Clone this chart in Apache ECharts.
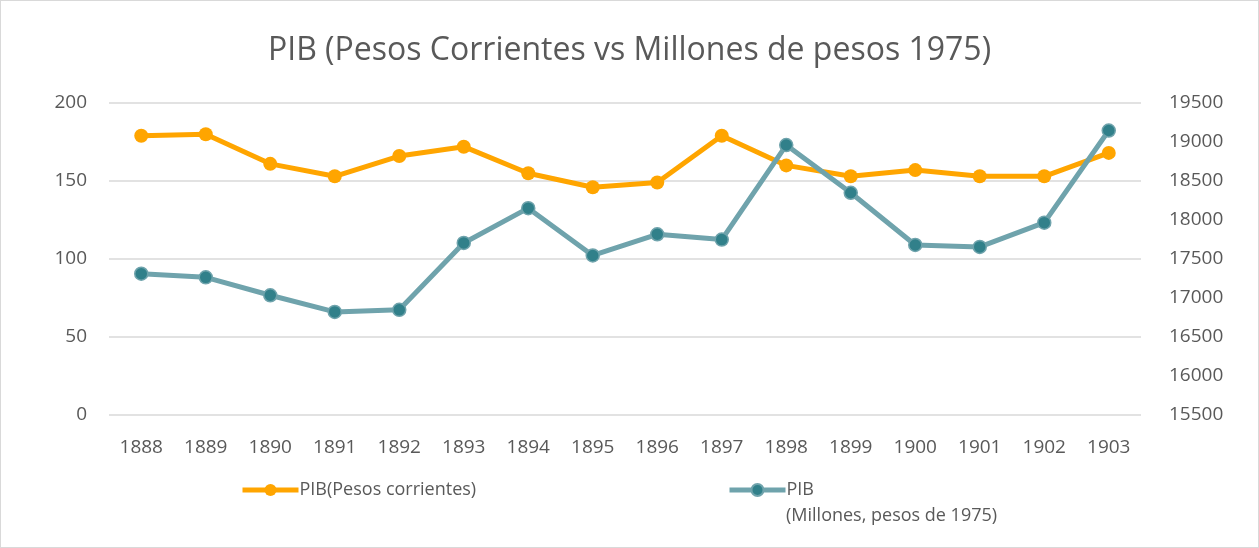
<!DOCTYPE html>
<html>
<head>
<meta charset="utf-8">
<script src="https://cdn.jsdelivr.net/npm/echarts@6/dist/echarts.min.js"></script>
<style>
  html, body { margin: 0; padding: 0; background: #fff; }
  #chart { width: 1259px; height: 548px; box-sizing: border-box; border: 1px solid #d9d9d9; }
</style>
</head>
<body>
<div id="chart"></div>
<script>
const years = ['1888', '1889', '1890', '1891', '1892', '1893', '1894', '1895', '1896', '1897', '1898', '1899', '1900', '1901', '1902', '1903']
const pibCorrientes = [179, 180, 161, 153, 166, 172, 155, 146, 149, 179, 160, 153, 157, 153, 153, 168]
const pib1975 = [17311, 17265, 17035, 16822, 16848, 17706, 18152, 17545, 17817, 17749, 18961, 18349, 17680, 17655, 17966, 19147]

const nameA = 'PIB(Pesos corrientes)'
const nameB = 'PIB\n(Millones, pesos de 1975)'
const txt = '#595959'
const font = 'Open Sans'

const chart = echarts.init(document.getElementById('chart'))
chart.setOption({
  animation: false,
  textStyle: { fontFamily: font },
  title: {
    text: 'PIB (Pesos Corrientes vs Millones de pesos 1975)',
    left: 'center',
    top: 29,
    textStyle: { color: txt, fontSize: 32, fontWeight: 'normal', fontFamily: font }
  },
  legend: [
    {
      data: [nameA],
      left: 234,
      top: 475,
      itemWidth: 56,
      itemHeight: 15,
      itemGap: 4,
      lineStyle: { width: 5 },
      textStyle: { color: txt, fontSize: 18, fontFamily: font, padding: [0, 0, 0, -4] }
    },
    {
      data: [nameB],
      left: 721,
      top: 475,
      itemWidth: 56,
      itemHeight: 15,
      lineStyle: { width: 5 },
      formatter: (n) => n.split('\n')[0],
      textStyle: { color: txt, fontSize: 18, fontFamily: font, padding: [0, 0, 0, -4] }
    }
  ],
  graphic: [
    {
      type: 'text',
      left: 785,
      top: 506,
      style: { text: nameB.split('\n')[1], fill: txt, fontSize: 18, fontFamily: font }
    }
  ],
  grid: { left: 108, right: 117, top: 102, bottom: 132 },
  xAxis: {
    type: 'category',
    data: years,
    axisLine: { show: false },
    axisTick: { show: false },
    axisLabel: { color: txt, fontSize: 19, margin: 23 }
  },
  yAxis: [
    {
      type: 'value',
      min: 0,
      max: 200,
      interval: 50,
      axisLabel: { color: txt, fontSize: 19, margin: 22 },
      splitLine: { lineStyle: { color: '#d9d9d9', width: 1.5 } }
    },
    {
      type: 'value',
      min: 15500,
      max: 19500,
      interval: 500,
      position: 'right',
      axisLabel: { color: txt, fontSize: 19, margin: 28, formatter: (v) => String(v) },
      splitLine: { show: false }
    }
  ],
  series: [
    {
      name: nameA,
      type: 'line',
      data: pibCorrientes,
      yAxisIndex: 0,
      symbol: 'circle',
      symbolSize: 14,
      lineStyle: { color: '#ffa500', width: 5 },
      itemStyle: { color: '#ffa500' }
    },
    {
      name: nameB,
      type: 'line',
      data: pib1975,
      yAxisIndex: 1,
      symbol: 'circle',
      symbolSize: 13,
      lineStyle: { color: '#6fa3ac', width: 5 },
      itemStyle: { color: '#31808a', borderColor: '#6fa3ac', borderWidth: 1.5 }
    }
  ]
})
</script>
</body>
</html>
